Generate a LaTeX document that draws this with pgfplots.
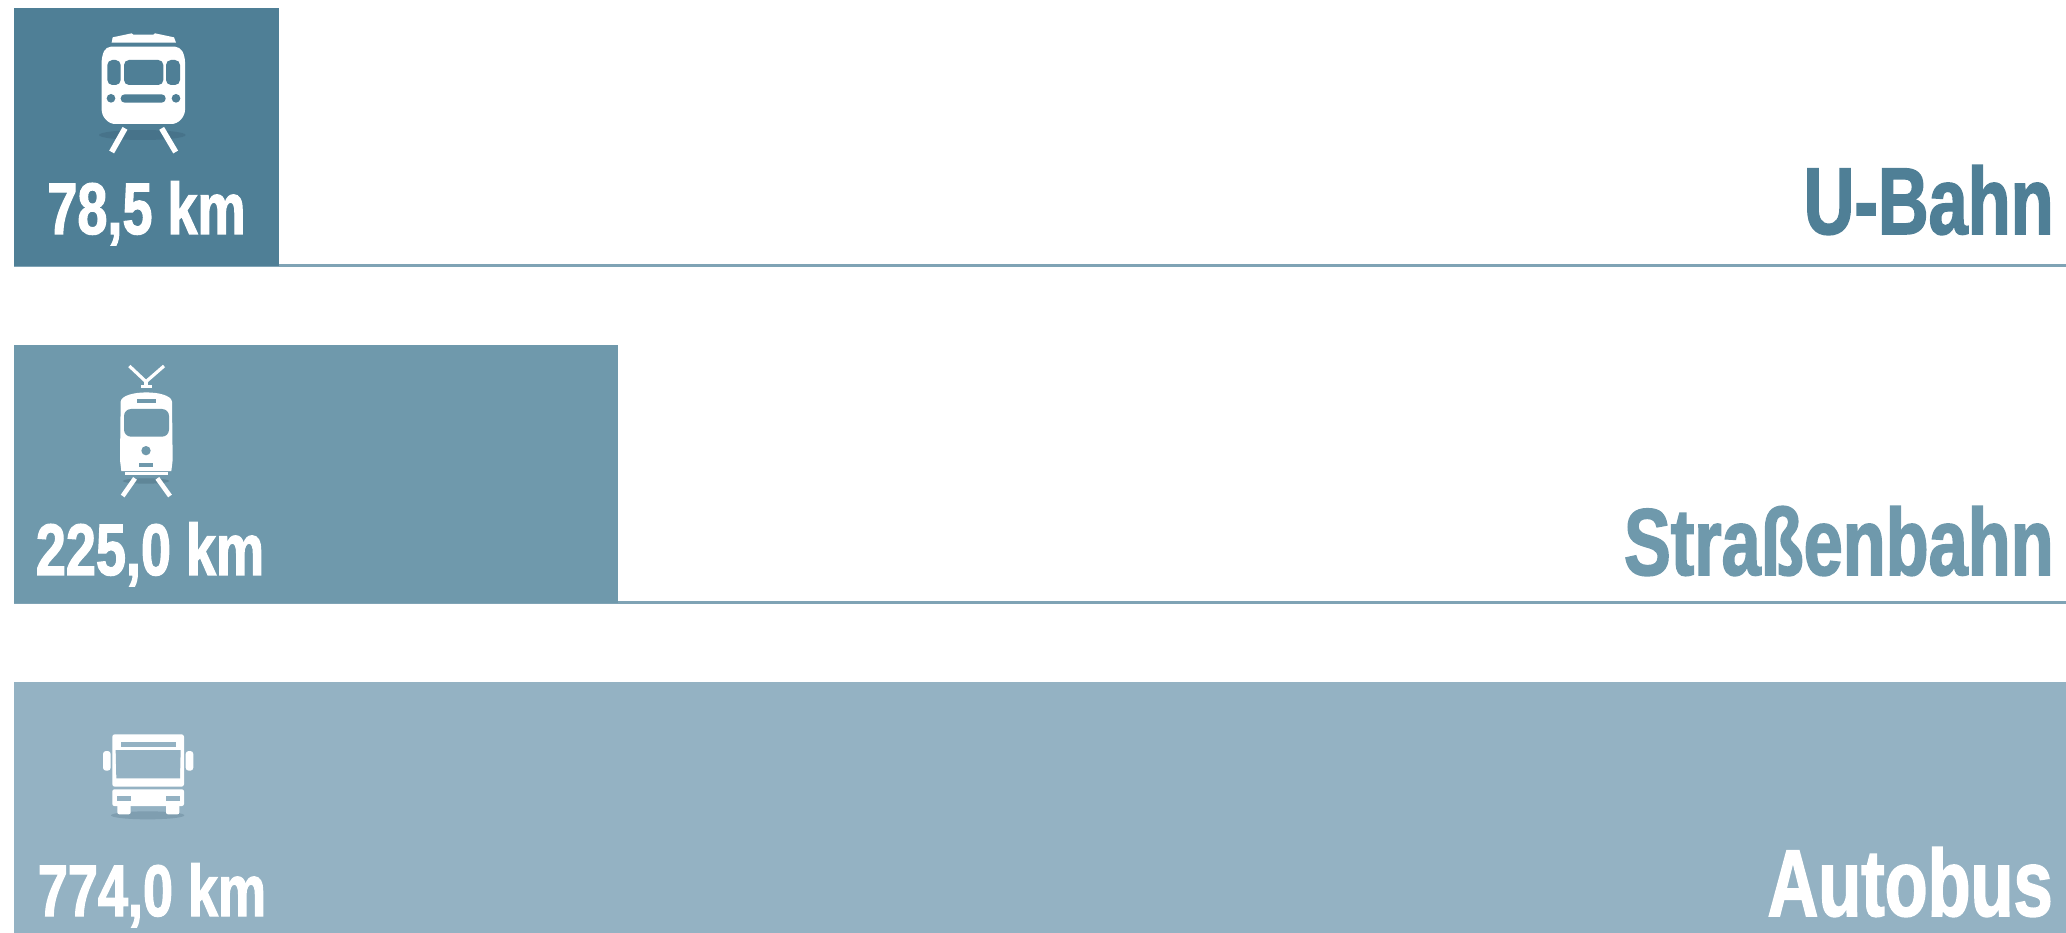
\documentclass[border=0pt]{standalone}
\usepackage{fontspec}
\setmainfont{Liberation Sans}[BoldFeatures={FakeStretch=0.74,FakeBold=1.6}]
\usepackage{pgfplots}
\pgfplotsset{compat=1.18}
\definecolor{cU}{HTML}{4F7F96}
\definecolor{cS}{HTML}{6F99AC}
\definecolor{cB}{HTML}{94B2C3}
\definecolor{cL}{HTML}{7FA3B5}
\definecolor{sU}{HTML}{47738A}
\definecolor{sS}{HTML}{5F8698}
\definecolor{sB}{HTML}{7F9EB0}
\begin{document}
\begin{tikzpicture}
\useasboundingbox (0,0.3pt) rectangle (1033pt,466.5pt);
\begin{axis}[
  scale only axis, width=1033pt, height=466.5pt,
  hide axis, clip=true,
  xmin=-5.28, xmax=774,
  ymin=-0.4065, ymax=2.362, y dir=reverse]
% separator lines under the first two rows
\addplot[cL, line width=1.3pt, forget plot] coordinates {(0,0.381) (774,0.381)};
\addplot[cL, line width=1.1pt, forget plot] coordinates {(0,1.381) (774,1.381)};
% bar lengths as drawn in the picture (the printed figures are in the labels)
\addplot[xbar, bar width=0.763, bar shift=0pt, fill=cU, draw=none] coordinates {(100,0)};
\addplot[xbar, bar width=0.763, bar shift=0pt, fill=cS, draw=none] coordinates {(228,1)};
\addplot[xbar, bar width=0.763, bar shift=0pt, fill=cB, draw=none] coordinates {(774,2)};
\end{axis}
% labels, in reference pixels
\begin{scope}[shift={(0,466.5pt)}, x=0.5pt, y=-0.5pt]
  \tikzset{val/.style={inner sep=0pt, text=white, font=\fontsize{36.5}{36.5}\selectfont\bfseries},
           nam/.style={inner sep=0pt, font=\fontsize{47.5}{47.5}\selectfont\bfseries}}
  \node[val, anchor=base] at (146.5,234) {78,5 km};
  \node[val, anchor=base] at (150,575) {225,0 km};
  \node[val, anchor=base] at (152,916) {774,0 km};
  \node[nam, anchor=base east, text=cU] at (2054,234) {U-Bahn};
  \node[nam, anchor=base east, text=cS] at (2054,575) {Straßenbahn};
  \node[nam, anchor=base east, text=white] at (2053,916) {Autobus};
\end{scope}
% icons, in 3x zoom units
\begin{scope}[shift={(0,466.5pt)}, x=0.16667pt, y=-0.16667pt]
  % U-Bahn
  \fill[sU] (427,405) ellipse (130 and 15);
  \draw[white, line width=2.8pt] (375,385) -- (335,456) (485,385) -- (527,456);
  \fill[white] (335,128) -- (338,112) -- (395,100) -- (400,104) -- (460,104) -- (465,100) -- (522,112) -- (528,128) -- cycle;
  \fill[white, rounded corners=2.5pt] (318,140) -- (540,140) -- (555,170) -- (555,345) -- (530,372) -- (330,372) -- (305,345) -- (305,170) -- cycle;
  \fill[cU, rounded corners=2.5pt] (322,180) rectangle (362,255);
  \fill[cU, rounded corners=2.5pt] (372,180) rectangle (490,255);
  \fill[cU, rounded corners=2.5pt] (498,180) rectangle (540,255);
  \fill[cU] (333,295) circle (13);
  \fill[cU] (528,295) circle (13);
  \fill[cU, rounded corners=2pt] (362,283) rectangle (497,308);
  % Strassenbahn
  \begin{scope}[yshift=-165pt]
    \fill[sS] (438,453) ellipse (70 and 8);
    \draw[white, line width=1.6pt] (388,108) -- (438,155) -- (492,108);
    \draw[white, line width=1.8pt] (438,155) -- (438,170);
    \fill[white] (423,165) rectangle (455,175);
    \draw[white, line width=2.3pt] (405,445) -- (368,498) (472,445) -- (510,498);
    \fill[white] (362,215) .. controls (366,178) and (512,178) .. (516,215) -- (518,390) -- (514,423) -- (364,423) -- (360,390) -- cycle;
    \fill[white] (375,426) rectangle (503,436);
    \fill[cS, rounded corners=3.5pt] (372,237) rectangle (507,320);
    \fill[cS] (412,207) rectangle (467,220);
    \fill[cS] (438,362) circle (14);
    \fill[cS] (418,398) rectangle (460,410);
  \end{scope}
  % Autobus
  \begin{scope}[yshift=-335pt]
    \fill[sB] (443,436) ellipse (110 and 12);
    \fill[white, rounded corners=1.2pt] (337,193) rectangle (552,350);
    \fill[white, rounded corners=1.5pt] (309,243) rectangle (332,302);
    \fill[white, rounded corners=1.5pt] (557,243) rectangle (580,302);
    \fill[cB] (362,215) rectangle (527,232);
    \fill[cB] (347,240) -- (542,240) -- (540,325) -- (349,325) -- cycle;
    \fill[white, rounded corners=1pt] (337,358) rectangle (552,408);
    \fill[cB] (350,378) rectangle (392,392);
    \fill[cB] (498,378) rectangle (540,392);
    \fill[white, rounded corners=1pt] (352,400) rectangle (392,433);
    \fill[white, rounded corners=1pt] (498,400) rectangle (538,433);
  \end{scope}
\end{scope}
\end{tikzpicture}
\end{document}
